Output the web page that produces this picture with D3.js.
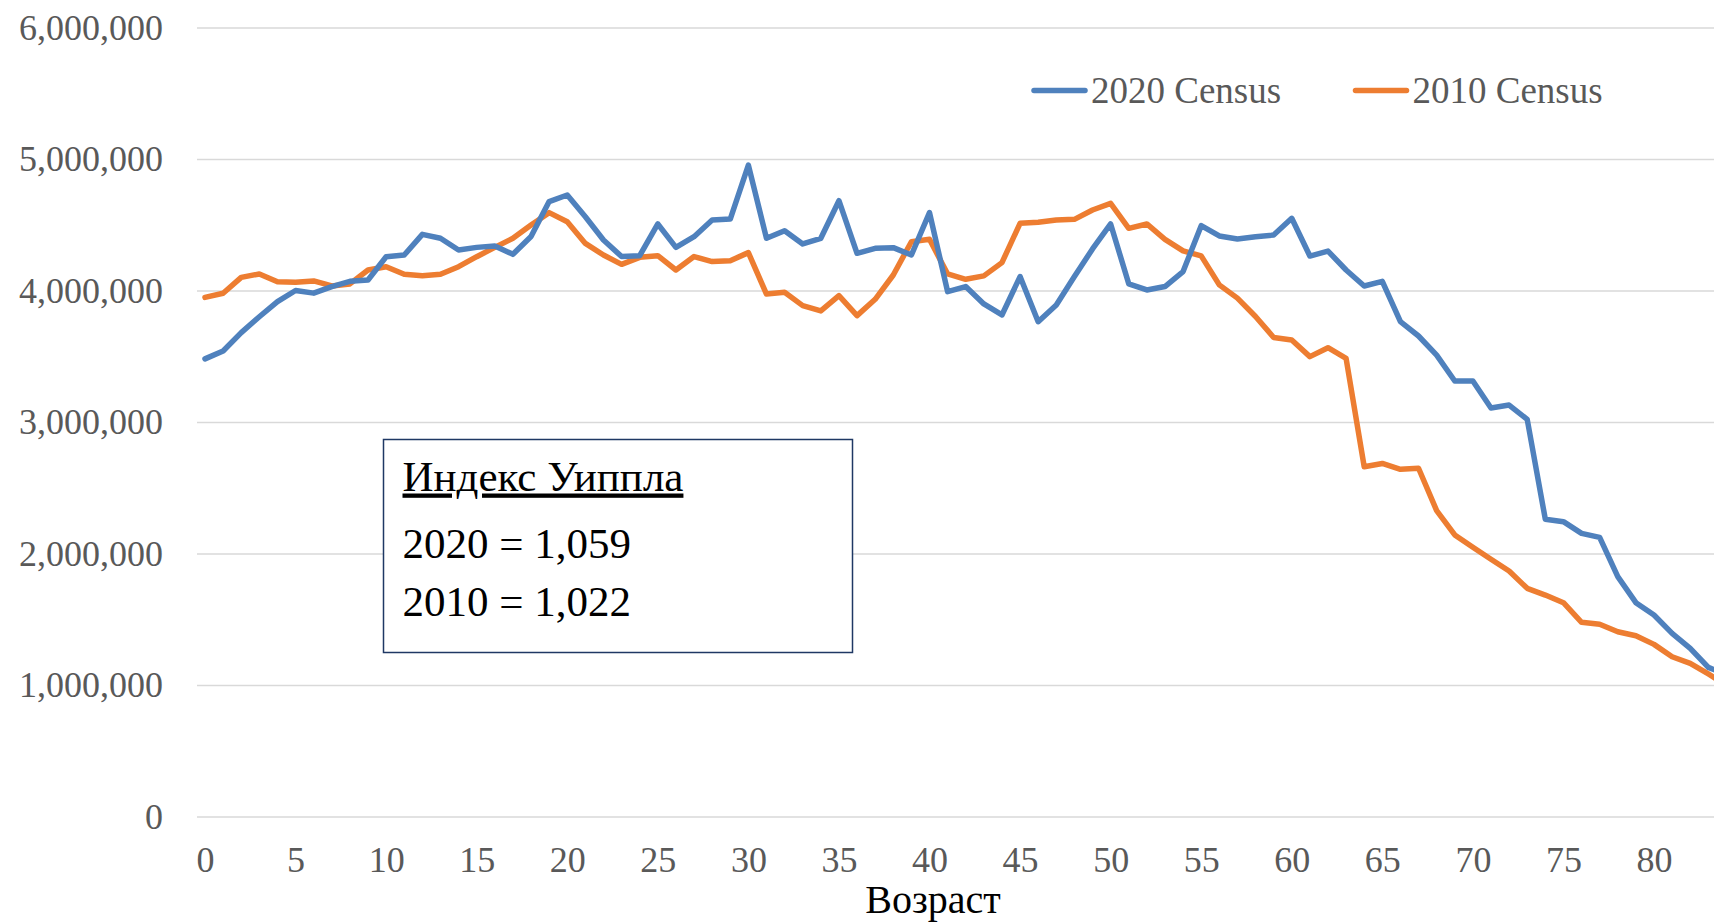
<!DOCTYPE html>
<html>
<head>
<meta charset="utf-8">
<script src="https://cdn.jsdelivr.net/npm/d3@7"></script>
<style>
  html, body { margin: 0; padding: 0; background: #fff; }
  svg { display: block; }
  .axis text { font-family: 'Times New Roman', 'Liberation Serif', serif; font-size: 36px; fill: #595959; }
  .axis .domain { display: none; }
  .grid line { stroke: #d9d9d9; stroke-width: 1.5; }
  .grid .domain { display: none; }
  .line { fill: none; stroke-width: 5.5; stroke-linejoin: round; stroke-linecap: round; }
</style>
</head>
<body>
<svg id="chart" width="1714" height="922"></svg>
<script>
/* ===========================================================
   Age distribution, 2020 vs 2010 census
   =========================================================== */

const ages = [0, 1, 2, 3, 4, 5, 6, 7, 8, 9, 10, 11, 12, 13, 14, 15, 16, 17, 18, 19,
  20, 21, 22, 23, 24, 25, 26, 27, 28, 29, 30, 31, 32, 33, 34, 35, 36, 37, 38, 39,
  40, 41, 42, 43, 44, 45, 46, 47, 48, 49, 50, 51, 52, 53, 54, 55, 56, 57, 58, 59,
  60, 61, 62, 63, 64, 65, 66, 67, 68, 69, 70, 71, 72, 73, 74, 75, 76, 77, 78, 79,
  80, 81, 82, 83, 84];

const census2020 = [3480000, 3540000, 3680000, 3800000, 3915000, 4000000, 3980000, 4030000, 4070000, 4080000,
  4257000, 4270000, 4427000, 4397000, 4308000, 4328000, 4338000, 4275000, 4410000, 4676000,
  4726000, 4561000, 4384000, 4258000, 4265000, 4506000, 4328000, 4409000, 4536000, 4543000,
  4954000, 4397000, 4455000, 4354000, 4397000, 4683000, 4283000, 4321000, 4326000, 4270000,
  4592000, 3991000, 4030000, 3898000, 3814000, 4106000, 3763000, 3890000, 4106000, 4316000,
  4506000, 4051000, 4004000, 4030000, 4144000, 4493000, 4415000, 4392000, 4409000, 4422000,
  4549000, 4262000, 4300000, 4156000, 4034000, 4070000, 3763000, 3654000, 3509000, 3312000,
  3312000, 3107000, 3129000, 3020000, 2260000, 2242000, 2153000, 2123000, 1824000, 1626000,
  1532000, 1393000, 1279000, 1134000, 1080000];

const census2010 = [3948000, 3979000, 4100000, 4126000, 4067000, 4062000, 4073000, 4035000, 4050000, 4156000,
  4181000, 4123000, 4113000, 4123000, 4181000, 4257000, 4328000, 4397000, 4498000, 4592000,
  4523000, 4358000, 4270000, 4199000, 4252000, 4265000, 4156000, 4258000, 4220000, 4227000,
  4288000, 3973000, 3986000, 3885000, 3845000, 3961000, 3809000, 3933000, 4118000, 4371000,
  4389000, 4126000, 4085000, 4111000, 4212000, 4511000, 4519000, 4536000, 4541000, 4612000,
  4663000, 4473000, 4506000, 4389000, 4301000, 4263000, 4043000, 3942000, 3802000, 3643000,
  3624000, 3497000, 3565000, 3484000, 2660000, 2685000, 2640000, 2648000, 2326000, 2141000,
  2047000, 1956000, 1867000, 1735000, 1684000, 1626000, 1477000, 1462000, 1405000, 1375000,
  1309000, 1215000, 1165000, 1084000, 1000000];

const xTicks = [0, 5, 10, 15, 20, 25, 30, 35, 40, 45, 50, 55, 60, 65, 70, 75, 80];
const yTicks = [0, 1000000, 2000000, 3000000, 4000000, 5000000, 6000000];

const seriesNames = ['2020 Census', '2010 Census'];
const COLORS = { '2020 Census': '#4f81bd', '2010 Census': '#ed7d31' };

const indexTitle = 'Индекс Уиппла';
const indexLines = ['2020 = 1,059', '2010 = 1,022'];
const xTitle = 'Возраст';

const SERIF = "'Times New Roman', 'Liberation Serif', serif";
const fmt = d3.format(',');

function drawChart() {
  const svg = d3.select('#chart');
  const W = 1714;
  const gridLeft = 197;

  const x = d3.scaleLinear().domain([0, 80]).range([205, 1654]);
  const y = d3.scaleLinear().domain([0, 6000000]).range([816.5, 27.5]);

  // horizontal grid lines
  svg.append('g').attr('class', 'grid')
    .attr('transform', `translate(${W},0)`)
    .call(d3.axisLeft(y).tickValues(yTicks).tickSize(W - gridLeft).tickFormat(''));

  svg.append('g').attr('class', 'axis')
    .attr('transform', `translate(${gridLeft},0)`)
    .call(d3.axisLeft(y).tickValues(yTicks).tickSize(0).tickPadding(34).tickFormat(fmt));

  svg.append('g').attr('class', 'axis')
    .attr('transform', `translate(0,${y(0)})`)
    .call(d3.axisBottom(x).tickValues(xTicks).tickSize(0).tickPadding(30).tickFormat(d3.format('d')));

  svg.append('text')
    .attr('x', 933).attr('y', 913)
    .attr('text-anchor', 'middle')
    .attr('font-family', SERIF).attr('font-size', 40)
    .attr('fill', '#000')
    .text(xTitle);

  const line = d3.line()
    .x((d, i) => x(ages[i]))
    .y(d => y(d));

  // 2010 first, 2020 on top
  [[census2010, '2010 Census'], [census2020, '2020 Census']].forEach(([vals, name]) => {
    svg.append('path')
      .datum(vals)
      .attr('class', 'line')
      .attr('stroke', COLORS[name])
      .attr('d', line);
  });

  // legend
  const legendX = [1034, 1355.5];
  seriesNames.forEach((name, i) => {
    const lg = svg.append('g').attr('transform', `translate(${legendX[i]},90.5)`);
    lg.append('line')
      .attr('x1', 0).attr('x2', 51)
      .attr('stroke', COLORS[name]).attr('stroke-width', 5.5)
      .attr('stroke-linecap', 'round');
    lg.append('text')
      .attr('x', 57).attr('y', 12.5)
      .attr('font-family', SERIF).attr('font-size', 37)
      .attr('fill', '#595959')
      .text(name);
  });

  // Whipple index box
  const box = svg.append('g').attr('transform', 'translate(383.5,439.5)');
  box.append('rect')
    .attr('width', 469).attr('height', 213)
    .attr('fill', '#fff')
    .attr('stroke', '#1f3864').attr('stroke-width', 1.5);
  box.append('text')
    .attr('x', 19).attr('y', 51)
    .attr('font-family', SERIF).attr('font-size', 43)
    .attr('fill', '#000')
    .attr('text-decoration', 'underline')
    .text(indexTitle);
  indexLines.forEach((t, i) => {
    box.append('text')
      .attr('x', 19).attr('y', 118 + i * 58)
      .attr('font-family', SERIF).attr('font-size', 43)
      .attr('fill', '#000')
      .text(t);
  });
}

drawChart();
</script>
</body>
</html>
